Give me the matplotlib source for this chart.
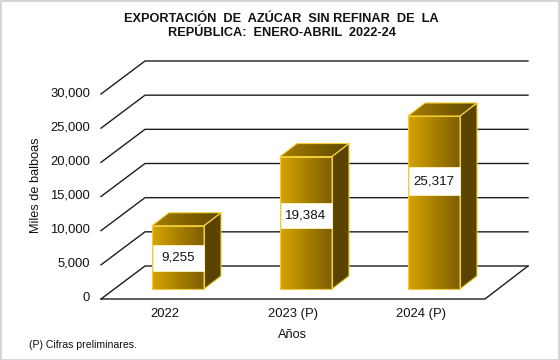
import numpy as np
from matplotlib import pyplot as plt
from matplotlib.colors import LinearSegmentedColormap
from matplotlib.patches import Polygon, Rectangle

plt.rcParams['font.family'] = ['Liberation Sans', 'DejaVu Sans']

years = ["2022", "2023 (P)", "2024 (P)"]
values = [9255, 19384, 25317]
value_labels = ["9,255", "19,384", "25,317"]
axis_ticks = [0, 5000, 10000, 15000, 20000, 25000, 30000]
tick_labels = ["0", "5,000", "10,000", "15,000", "20,000", "25,000", "30,000"]

# where the fake 3D box sits, in pixels of the picture
floor_y = 299
floor_left = 101
floor_right = 485
wall_dx = 44
wall_dy = 33
px_per_unit = (299 - 94) / 30000
bar_width = 52
bar_dx = 17
bar_dy = 13
bar_bottom = 289
box_top = [245, 203, 167]
box_bottom = [271, 228, 195]

front_cmap = LinearSegmentedColormap.from_list("front", ["#d6a400", "#7c5e00"])
top_cmap = LinearSegmentedColormap.from_list("top", ["#a67e00", "#5e4700"])
edge_col = "#f2cc30"

fig = plt.figure(figsize=(5.59, 3.6), dpi=100)
ax = fig.add_axes([0, 0, 1, 1])
ax.axis("off")


def val_y(v, base=floor_y):
    return base - v * px_per_unit


def gradient_poly(points, cmap, x0, x1, y0, y1):
    # gradient going left to right, clipped to the shape
    poly = Polygon(points, closed=True, fc="none", ec="none", zorder=3)
    ax.add_patch(poly)
    img = ax.imshow(np.linspace(0, 1, 256).reshape(1, -1), cmap=cmap, aspect="auto",
                    extent=(x0, x1, y1, y0), zorder=3, interpolation="bilinear")
    img.set_clip_path(poly)


# grid lines on the left and back walls
for t in axis_ticks:
    y = val_y(t)
    ax.plot([floor_left, floor_left + wall_dx, 528], [y, y - wall_dy, y - wall_dy],
            color="#1c1c1c", lw=1.0, zorder=1, solid_joinstyle="miter")
    ax.text(90, y - 1, tick_labels[axis_ticks.index(t)], ha="right", va="center", fontsize=9.4, color="#111111")

# floor front and right edge
ax.plot([floor_left, floor_right, 528], [floor_y, floor_y, floor_y - wall_dy], color="#1c1c1c", lw=1.0, zorder=1)

slot = (floor_right - floor_left) / len(years)
for i in range(len(years)):
    center = floor_left + slot * (i + 0.5)
    left = center - 13
    right = left + bar_width
    top = bar_bottom - values[i] * px_per_unit

    front = [(left, bar_bottom), (right, bar_bottom), (right, top), (left, top)]
    top_face = [(left, top), (right, top), (right + bar_dx, top - bar_dy), (left + bar_dx, top - bar_dy)]
    side = [(right, bar_bottom), (right + bar_dx, bar_bottom - bar_dy), (right + bar_dx, top - bar_dy), (right, top)]

    gradient_poly(front, front_cmap, left, right, top, bar_bottom)
    gradient_poly(top_face, top_cmap, left, right + bar_dx, top - bar_dy, top)
    ax.add_patch(Polygon(side, closed=True, fc="#5a4300", ec="none", zorder=3))
    for shape in (front, top_face, side):
        ax.add_patch(Polygon(shape, closed=True, fc="none", ec=edge_col, lw=0.8, zorder=4, joinstyle="round"))

    ax.add_patch(Rectangle((left + 0.5, box_top[i]), bar_width - 1, box_bottom[i] - box_top[i],
                           fc="white", ec="#fff4c0", lw=0.6, zorder=5))
    ax.text(left + bar_width / 2, (box_top[i] + box_bottom[i]) / 2, value_labels[i], ha="center", va="center",
            fontsize=9.6, color="#111111", zorder=6)
    ax.text(center, 314, years[i], ha="center", va="center", fontsize=9.4, color="#111111")

ax.text(281.5, 18.5, "EXPORTACIÓN  DE  AZÚCAR  SIN REFINAR  DE  LA", ha="center", va="center",
        fontsize=9.2, fontweight="bold", color="#111111")
ax.text(281.5, 33.5, "REPÚBLICA:  ENERO-ABRIL  2022-24", ha="center", va="center",
        fontsize=9.2, fontweight="bold", color="#111111")
ax.text(36, 185, "Miles de balboas", rotation=90, ha="center", va="center", fontsize=9.2, color="#111111")
ax.text(292, 335, "Años", ha="center", va="center", fontsize=9.2, color="#111111")
ax.text(29, 345, "(P) Cifras preliminares.", ha="left", va="center", fontsize=7.6, color="#111111")

# thin grey frame of the picture
ax.add_patch(Rectangle((0.5, 0.5), 558, 359, fc="none", ec="#d4d4d4", lw=1.4, zorder=7))

ax.set_xlim(0, 559)
ax.set_ylim(360, 0)

fig.savefig("out.png", dpi=100)
